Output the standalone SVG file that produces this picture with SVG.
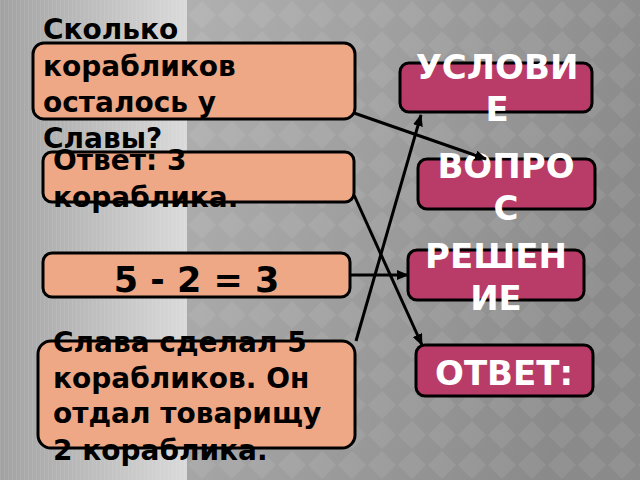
<svg xmlns="http://www.w3.org/2000/svg" width="640" height="480" viewBox="0 0 640 480">
<defs>
<linearGradient id="leftBg" x1="0" y1="0" x2="1" y2="0">
<stop offset="0" stop-color="#a2a2a2"/>
<stop offset="1" stop-color="#dadada"/>
</linearGradient>
<linearGradient id="rightBg" x1="0" y1="0" x2="1" y2="0.3">
<stop offset="0" stop-color="#b0b0b0"/>
<stop offset="1" stop-color="#8a8a8a"/>
</linearGradient>
<pattern id="stripes" width="4" height="10" patternUnits="userSpaceOnUse">
<rect x="0" y="0" width="1" height="10" fill="#ffffff" fill-opacity="0.08"/>
</pattern>
<pattern id="diamonds" width="30" height="30" patternUnits="userSpaceOnUse" x="187" y="0">
<polygon points="15,1 29,15 15,29 1,15" fill="#ffffff" fill-opacity="0.07"/>
</pattern>
<marker id="arr" markerWidth="12" markerHeight="10" refX="11" refY="5" orient="auto" markerUnits="userSpaceOnUse">
<polygon points="0,0 12,5 0,10" fill="#000"/>
</marker>
<style>
.q{fill:#eea886;stroke:#000;stroke-width:3}
.a{fill:#b93b68;stroke:#000;stroke-width:3}
.t{font-family:"DejaVu Sans","Verdana",sans-serif;font-weight:bold;font-size:28px;fill:#000}
.w{font-family:"DejaVu Sans","Verdana",sans-serif;font-weight:bold;font-size:34px;fill:#fff;text-anchor:middle}
.c{stroke:#000;stroke-width:3;fill:none;marker-end:url(#arr)}
</style>
</defs>
<g id="background">
<rect x="0" y="0" width="187" height="480" fill="url(#leftBg)"/>
<rect x="0" y="0" width="187" height="480" fill="url(#stripes)"/>
<rect x="187" y="0" width="453" height="480" fill="url(#rightBg)"/>
<rect x="187" y="0" width="453" height="480" fill="url(#diamonds)"/>
</g>
<g id="node-question">
<rect class="q" x="33" y="43" width="322" height="76" rx="11"/>
<text class="t" x="43"><tspan x="43" y="39">Сколько</tspan><tspan x="43" y="76">корабликов</tspan><tspan x="43" y="112">осталось у</tspan><tspan x="43" y="148">Славы?</tspan></text>
</g>
<g id="node-answer">
<rect class="q" x="43" y="152" width="311" height="50" rx="9"/>
<text class="t"><tspan x="53" y="170">Ответ: 3</tspan><tspan x="53" y="207">кораблика.</tspan></text>
</g>
<g id="node-solution">
<rect class="q" x="43" y="253" width="307" height="44" rx="9"/>
<text class="t" x="196.5" y="292" style="font-size:35px;text-anchor:middle">5 - 2 = 3</text>
</g>
<g id="node-condition">
<rect class="q" x="38" y="341" width="317" height="107" rx="13"/>
<text class="t"><tspan x="53" y="352">Слава сделал 5</tspan><tspan x="53" y="388">корабликов. Он</tspan><tspan x="53" y="423">отдал товарищу</tspan><tspan x="53" y="460">2 кораблика.</tspan></text>
</g>
<g id="node-uslovie">
<rect class="a" x="400" y="63" width="192" height="49" rx="9"/>
<text class="w"><tspan x="497" y="79">УСЛОВИ</tspan><tspan x="497" y="121">Е</tspan></text>
</g>
<g id="node-vopros">
<rect class="a" x="418" y="159" width="177" height="50" rx="9"/>
<text class="w"><tspan x="506" y="178">ВОПРО</tspan><tspan x="506" y="220">С</tspan></text>
</g>
<g id="node-reshenie">
<rect class="a" x="408" y="250" width="176" height="50" rx="9"/>
<text class="w"><tspan x="496" y="268">РЕШЕН</tspan><tspan x="496" y="310">ИЕ</tspan></text>
</g>
<g id="node-otvet">
<rect class="a" x="416" y="345" width="177" height="51" rx="9"/>
<text class="w" x="504" y="385">ОТВЕТ:</text>
</g>
<g id="connectors">
<line class="c" x1="354" y1="113" x2="486" y2="159"/>
<line class="c" x1="354" y1="195" x2="422" y2="345"/>
<line class="c" x1="350" y1="275" x2="408" y2="275"/>
<line class="c" x1="356" y1="341" x2="421" y2="115"/>
</g>
</svg>
